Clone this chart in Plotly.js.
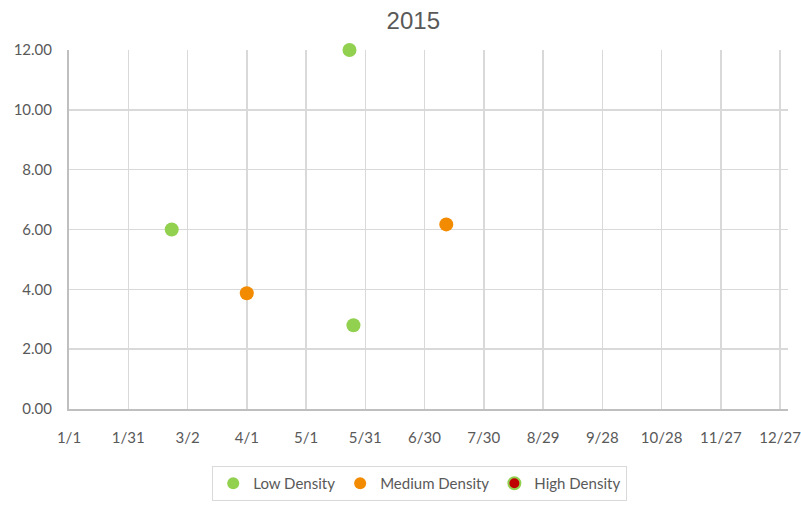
<!DOCTYPE html>
<html>
<head>
<meta charset="utf-8">
<script src="https://cdn.plot.ly/plotly-3.0.1.min.js"></script>
<style>html,body{margin:0;padding:0;background:#fff;}#chart{width:801px;height:506px;}</style>
</head>
<body>
<div id="chart"></div>
<script>
const chartTitle = "2015";
const lowDates = ["2015-02-22", "2015-05-23", "2015-05-25"];
const lowValues = [6.0, 12.0, 2.8];
const mediumDates = ["2015-04-01", "2015-07-11"];
const mediumValues = [3.87, 6.17];
const highDates = [null];
const highValues = [null];
const tickDates = ["2015-01-01","2015-01-31","2015-03-02","2015-04-01","2015-05-01","2015-05-31","2015-06-30","2015-07-30","2015-08-29","2015-09-28","2015-10-28","2015-11-27","2015-12-27"];
const tickLabels = ["1/1","1/31","3/2","4/1","5/1","5/31","6/30","7/30","8/29","9/28","10/28","11/27","12/27"];
const yTicks = [0, 2, 4, 6, 8, 10, 12];

const font = "Lato, 'Open Sans', sans-serif";
const traces = [
  {name: "Low Density", x: lowDates, y: lowValues, type: "scatter", mode: "markers", cliponaxis: false,
   marker: {size: 14, color: "#92D050"}},
  {name: "Medium Density", x: mediumDates, y: mediumValues, type: "scatter", mode: "markers", cliponaxis: false,
   marker: {size: 14, color: "#F38B00"}},
  {name: "High Density", x: highDates, y: highValues, type: "scatter", mode: "markers",
   marker: {size: 14, color: "#C00000", line: {color: "#92D050", width: 1.5}}}
];
const layout = {
  width: 801, height: 506,
  margin: {l: 69, r: 13, t: 50, b: 97, autoexpand: false},
  paper_bgcolor: "#fff", plot_bgcolor: "#fff",
  title: {text: chartTitle, x: 0.516, xanchor: "center", y: 0.96, yanchor: "middle",
          font: {family: "'Liberation Sans', Arial, sans-serif", size: 24, color: "#595959"}},
  font: {family: font, size: 15, color: "#595959"},
  showlegend: true,
  xaxis: {type: "date", range: ["2015-01-01", "2015-12-31"], tickvals: tickDates, ticktext: tickLabels,
          showgrid: true, gridcolor: "#d9d9d9", gridwidth: 1.5, showline: true, linecolor: "#bfbfbf", linewidth: 2,
          zeroline: false, ticks: "outside", ticklen: 14, tickcolor: "rgba(0,0,0,0)", ticklabeloverflow: "allow",
          automargin: false, tickfont: {size: 15, color: "#595959"}, fixedrange: true},
  yaxis: {range: [0, 12], tickvals: yTicks, tickformat: ".2f", showgrid: true, gridcolor: "#d9d9d9", gridwidth: 1.5,
          showline: true, linecolor: "#bfbfbf", linewidth: 2, zeroline: false, ticks: "outside", ticklen: 12, tickcolor: "rgba(0,0,0,0)",
          automargin: false, tickfont: {size: 15, color: "#595959"}, fixedrange: true},
  legend: {orientation: "h", xref: "container", yref: "container", x: 0.524, xanchor: "center", y: 0.079, yanchor: "top",
           bordercolor: "#d9d9d9", borderwidth: 1, bgcolor: "#fff",
           font: {size: 15, color: "#595959"}, itemwidth: 30, itemsizing: "constant"}
};
Plotly.newPlot("chart", traces, layout, {displayModeBar: false, staticPlot: true});
</script>
</body>
</html>
